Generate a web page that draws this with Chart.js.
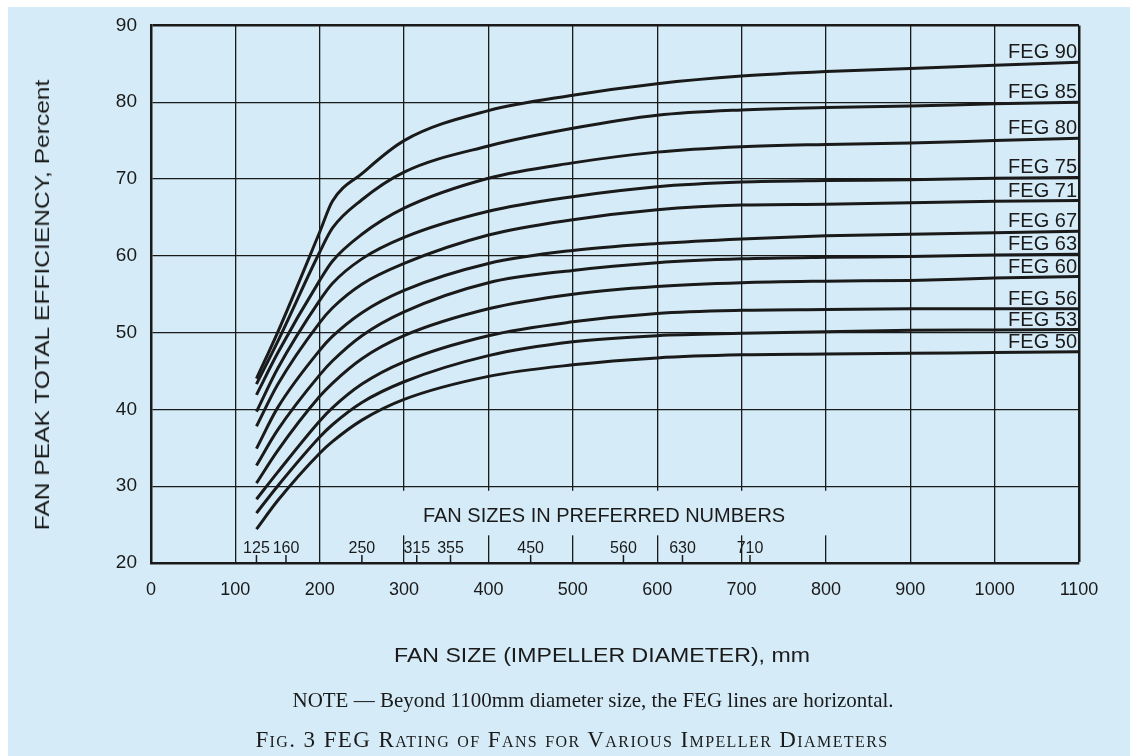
<!DOCTYPE html>
<html>
<head>
<meta charset="utf-8">
<script src="https://cdn.jsdelivr.net/npm/chart.js@4.4.1/dist/chart.umd.min.js"></script>
<style>
  html, body { margin: 0; padding: 0; background: #fff; }
  #page { position: absolute; left: 8px; top: 7px; width: 1122px; height: 749px; background: #d5ecf8; }
  #wrap { position: absolute; left: 0; top: 0; width: 1130px; height: 756px; }
  .txt { position: absolute; white-space: nowrap; color: #1a1a1a; }
  #ytitle { font: 21px "Liberation Sans", Arial, sans-serif; left: 42px; top: 305px;
    transform: translate(-50%, -50%) rotate(-90deg) scaleX(1.17); }
  #xtitle { font: 21px "Liberation Sans", Arial, sans-serif; left: 602px; top: 655px;
    transform: translate(-50%, -50%) scaleX(1.1); }
  #note { font: 21px "Liberation Serif", "Times New Roman", serif; left: 593px; top: 700px;
    transform: translate(-50%, -50%); }
  #caption { font: 23px "Liberation Serif", "Times New Roman", serif; font-variant: small-caps;
    letter-spacing: 1.4px; left: 572px; top: 740px; transform: translate(-50%, -50%); }
</style>
</head>
<body>
<div id="page"></div>
<div id="wrap"><canvas id="fegChart" width="1130" height="756"></canvas></div>
<div class="txt" id="ytitle">FAN PEAK TOTAL EFFICIENCY, Percent</div>
<div class="txt" id="xtitle">FAN SIZE (IMPELLER DIAMETER), mm</div>
<div class="txt" id="note">NOTE — Beyond 1100mm diameter size, the FEG lines are horizontal.</div>
<div class="txt" id="caption">Fig. 3 FEG Rating of Fans for Various Impeller Diameters</div>
<script>
// impeller diameter, mm
const sizes = [125, 150, 200, 215, 250, 300, 400, 500, 600, 700, 800, 900, 1000, 1100];

// peak total efficiency, percent
const feg90 = [44.0, 50.0, 63.1, 67.1, 70.7, 75.0, 78.9, 80.9, 82.4, 83.4, 84.0, 84.4, 84.8, 85.2];
const feg85 = [43.3, 48.8, 60.5, 63.6, 67.3, 70.9, 74.3, 76.6, 78.3, 79.0, 79.3, 79.5, 79.8, 80.0];
const feg80 = [41.9, 47.3, 56.8, 59.3, 62.8, 66.2, 70.1, 72.1, 73.5, 74.2, 74.5, 74.7, 75.0, 75.3];
const feg75 = [39.7, 45.3, 54.2, 56.4, 59.6, 62.4, 65.8, 67.7, 69.0, 69.6, 69.8, 69.9, 70.1, 70.2];
const feg71 = [37.8, 43.2, 51.3, 53.2, 56.3, 59.0, 62.7, 64.7, 66.0, 66.6, 66.7, 66.9, 67.1, 67.2];
const feg67 = [34.9, 40.2, 47.7, 49.5, 52.6, 55.5, 59.0, 60.7, 61.6, 62.2, 62.6, 62.8, 63.0, 63.2];
const feg63 = [32.7, 37.3, 44.5, 46.3, 49.6, 52.7, 56.5, 58.1, 59.1, 59.6, 59.8, 59.9, 60.1, 60.2];
const feg60 = [30.4, 34.6, 41.7, 43.4, 46.6, 49.6, 53.1, 55.0, 56.0, 56.5, 56.7, 56.8, 57.1, 57.3];
const feg56 = [28.3, 31.8, 38.5, 40.2, 43.3, 46.2, 49.6, 51.4, 52.5, 52.9, 53.0, 53.1, 53.1, 53.1];
const feg53 = [26.5, 30.0, 36.4, 38.0, 40.9, 43.6, 47.0, 48.8, 49.6, 49.9, 50.1, 50.3, 50.35, 50.4];
const feg50 = [24.4, 28.1, 34.3, 35.8, 38.6, 41.3, 44.3, 45.8, 46.7, 47.1, 47.2, 47.3, 47.4, 47.5];

const fegSeries = [feg90, feg85, feg80, feg75, feg71, feg67, feg63, feg60, feg56, feg53, feg50];
const fegNames = ["FEG 90", "FEG 85", "FEG 80", "FEG 75", "FEG 71", "FEG 67",
                  "FEG 63", "FEG 60", "FEG 56", "FEG 53", "FEG 50"];

const preferredSizes = [125, 160, 250, 315, 355, 450, 560, 630, 710];
const preferredTitle = "FAN SIZES IN PREFERRED NUMBERS";

const BG = "#d5ecf8";
const INK = "#1a1a1a";
const SANS = "'Liberation Sans', Arial, sans-serif";

const fegDecor = {
  id: "fegDecor",
  beforeDatasetsDraw(chart) {
    const { ctx, scales: { x, y } } = chart;
    ctx.save();
    // gap in the grid behind the preferred-number caption
    const gx0 = x.getPixelForValue(300) - 3;
    const gx1 = x.getPixelForValue(800) + 3;
    const gy0 = y.getPixelForValue(29.4);
    const gy1 = y.getPixelForValue(23.6);
    ctx.fillStyle = BG;
    ctx.fillRect(gx0, gy0, gx1 - gx0, gy1 - gy0);

    ctx.fillStyle = INK;
    ctx.textAlign = "center";
    ctx.textBaseline = "middle";
    ctx.font = "20px " + SANS;
    ctx.fillText(preferredTitle, x.getPixelForValue(537), y.getPixelForValue(26.1));

    ctx.font = "16px " + SANS;
    ctx.strokeStyle = INK;
    ctx.lineWidth = 1.5;
    const base = y.getPixelForValue(20);
    preferredSizes.forEach((v) => {
      const px = x.getPixelForValue(v);
      ctx.beginPath();
      ctx.moveTo(px, base);
      ctx.lineTo(px, base - 8);
      ctx.stroke();
      ctx.fillText(String(v), px, y.getPixelForValue(21.9));
    });
    ctx.restore();
  },
  afterDatasetsDraw(chart) {
    const { ctx, scales: { x, y } } = chart;
    ctx.save();
    ctx.fillStyle = INK;
    ctx.font = "20px " + SANS;
    ctx.textAlign = "right";
    ctx.textBaseline = "alphabetic";
    fegSeries.forEach((s, i) => {
      const last = s[s.length - 1];
      ctx.fillText(fegNames[i], x.right - 2, y.getPixelForValue(last) - 4);
    });
    ctx.restore();
  },
};

const edgeWidth = (edgeValue) => (c) => (c.tick && c.tick.value === edgeValue ? 2.5 : 1.3);

new Chart(document.getElementById("fegChart"), {
  type: "line",
  data: {
    datasets: fegSeries.map((s, i) => ({
      label: fegNames[i],
      data: sizes.map((sz, j) => ({ x: sz, y: s[j] })),
      borderColor: INK,
      borderWidth: 3,
      pointRadius: 0,
      fill: false,
      cubicInterpolationMode: "monotone",
    })),
  },
  options: {
    responsive: false,
    animation: false,
    events: [],
    layout: { padding: { top: 23, right: 51, left: 0, bottom: 0 } },
    plugins: {
      legend: { display: false },
      tooltip: { enabled: false },
    },
    scales: {
      x: {
        type: "linear",
        min: 0,
        max: 1100,
        afterFit: (s) => { s.height = 193; },
        ticks: {
          stepSize: 100, padding: 16, color: INK,
          font: { size: 18, family: SANS },
          callback: (v) => String(v),
        },
        grid: { color: INK, lineWidth: edgeWidth(1100), drawTicks: false },
        border: { color: INK, width: 2.5 },
      },
      y: {
        min: 20,
        max: 90,
        afterFit: (s) => { s.width = 151; },
        ticks: {
          stepSize: 10, padding: 14, color: INK,
          font: { size: 19, family: SANS },
          callback: (v) => String(v),
        },
        grid: { color: INK, lineWidth: edgeWidth(90), drawTicks: false },
        border: { color: INK, width: 2.5 },
      },
    },
  },
  plugins: [fegDecor],
});
</script>
</body>
</html>
